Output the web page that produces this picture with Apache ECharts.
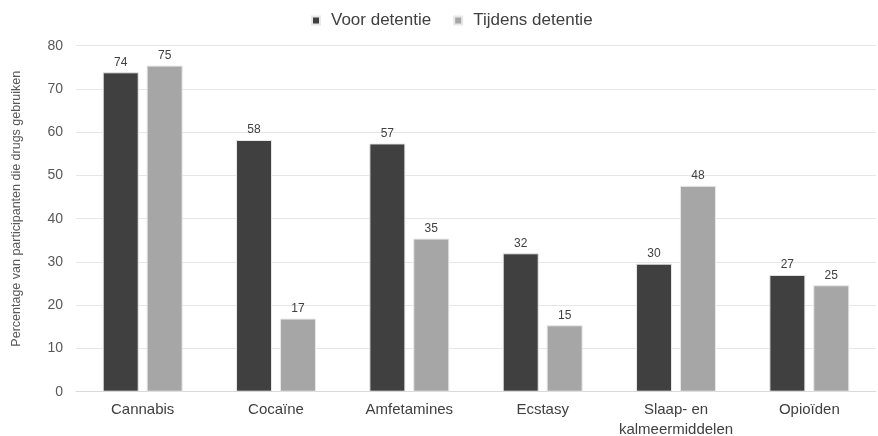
<!DOCTYPE html>
<html>
<head>
<meta charset="utf-8">
<script src="https://cdn.jsdelivr.net/npm/echarts@6/dist/echarts.min.js"></script>
<style>
  html, body { margin: 0; padding: 0; background: #fff; }
  #chart { width: 878px; height: 436px; }
</style>
</head>
<body>
<div id="chart"></div>
<script>
// Drug use among participants, before and during detention (percent)
const categories = ['Cannabis', 'Cocaïne', 'Amfetamines', 'Ecstasy', 'Slaap- en\nkalmeermiddelen', 'Opioïden'];
const voorDetentie = [73.85, 58.2, 57.4, 32.0, 29.6, 27.0];
const tijdensDetentie = [75.4, 16.9, 35.4, 15.35, 47.6, 24.6];
const yTicks = { min: 0, max: 80, interval: 10 };

const fontFamily = '"Liberation Sans", Arial, sans-serif';
const textColor = '#404040';

const chart = echarts.init(document.getElementById('chart'), null, { renderer: 'canvas' });

function barSeries(name, data, color) {
  return {
    name: name,
    type: 'bar',
    data: data,
    barWidth: 36,
    barGap: '22%',
    itemStyle: { color: color, borderColor: '#e8e8e8', borderWidth: 1 },
    label: {
      show: true,
      position: 'top',
      distance: 4,
      color: textColor,
      fontFamily: fontFamily,
      fontSize: 12,
      formatter: p => Math.round(p.value)
    }
  };
}

chart.setOption({
  animation: false,
  textStyle: { fontFamily: fontFamily },
  legend: {
    top: 7,
    left: 306,
    itemWidth: 8,
    itemHeight: 8,
    itemGap: 22,
    icon: 'rect',
    textStyle: { color: textColor, fontSize: 17, fontFamily: fontFamily, padding: [0, 0, 0, 6] },
    data: ['Voor detentie', 'Tijdens detentie']
  },
  grid: { left: 76, right: 2, top: 45.7, bottom: 44.3, containLabel: false, outerBoundsMode: 'none' },
  xAxis: {
    type: 'category',
    data: categories,
    axisTick: { show: false },
    axisLine: { lineStyle: { color: '#d9d9d9', width: 1 } },
    axisLabel: {
      color: textColor,
      fontSize: 15,
      fontFamily: fontFamily,
      margin: 8,
      lineHeight: 20,
      interval: 0
    }
  },
  yAxis: {
    type: 'value',
    min: yTicks.min,
    max: yTicks.max,
    interval: yTicks.interval,
    name: 'Percentage van participanten die drugs gebruiken',
    nameLocation: 'middle',
    nameGap: 53,
    nameTextStyle: { color: '#595959', fontSize: 12.5, fontFamily: fontFamily, padding: [0, 0, 0, 20] },
    axisLine: { show: false },
    axisTick: { show: false },
    splitLine: { lineStyle: { color: '#e6e6e6', width: 1 } },
    axisLabel: { color: '#595959', fontSize: 14, fontFamily: fontFamily, margin: 13 }
  },
  series: [
    barSeries('Voor detentie', voorDetentie, '#404040'),
    barSeries('Tijdens detentie', tijdensDetentie, '#a6a6a6')
  ]
});
</script>
</body>
</html>
